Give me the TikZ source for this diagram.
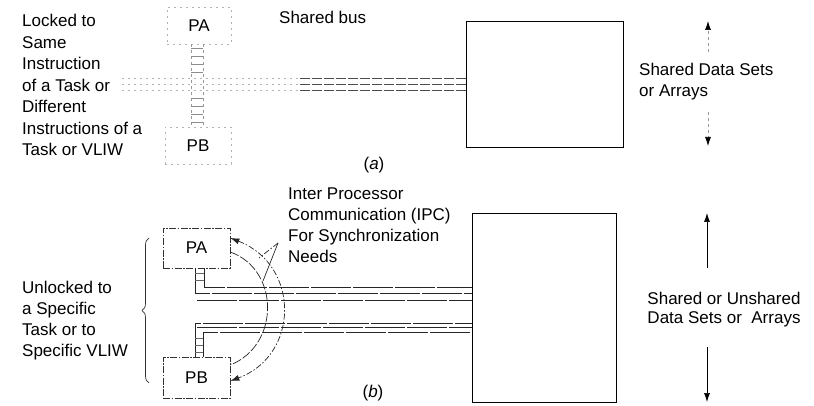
\documentclass[tikz,border=0pt]{standalone}
\usepackage{fontspec}
\setmainfont{Liberation Sans}
\usetikzlibrary{arrows.meta,decorations.pathreplacing}
\begin{document}
\begin{tikzpicture}[x=1pt,y=-1pt,
  txt/.style={font=\fontsize{17}{21}\selectfont, align=left, anchor=north west, inner sep=0pt},
  lbl/.style={font=\fontsize{17}{21}\selectfont, inner sep=0pt},
  faint/.style={draw=black!40, dash pattern=on 3pt off 3pt, line width=0.7pt},
  fainter/.style={draw=black!30, dash pattern=on 2pt off 4pt, line width=0.7pt},
  procbox/.style={draw=black!80, dash pattern=on 7pt off 1.5pt on 1.5pt off 1.5pt, line width=0.7pt, font=\fontsize{17}{21}\selectfont, inner sep=0pt},
  procboxa/.style={fainter, font=\fontsize{17}{21}\selectfont, inner sep=0pt},
  membox/.style={draw=black, line width=0.8pt, inner sep=0pt},
  busa/.style={draw=black!70, dash pattern=on 10pt off 2pt, line width=0.7pt},
  busb/.style={draw=black!85, dash pattern=on 40pt off 2pt, line width=0.7pt},
  rung/.style={draw=black!60, line width=0.6pt},
  ipcout/.style={draw=black!85, line width=0.7pt, dash pattern=on 6pt off 2pt on 1.5pt off 2pt},
  ipcin/.style={draw=black!85, line width=0.7pt, dash pattern=on 9pt off 2pt},
  tip/.style={-{Latex[length=9pt,width=6pt,color=black]}}
]
\useasboundingbox (0,0) rectangle (814,406);

% ---------------- (a) ----------------
\node[procboxa, minimum width=64, minimum height=37] (PAa) at (199,25.5) {PA};
\node[procboxa, minimum width=66, minimum height=37] (PBa) at (198,145.5) {PB};
\node[membox, minimum width=157, minimum height=126] (MEMa) at (544.5,84) {};

\draw[faint] (191,0 |- PAa.south) -- (191,0 |- PBa.north);
\draw[faint] (203,0 |- PAa.south) -- (203,0 |- PBa.north);
\foreach \yy in {48,56,64,72,98,106,114,122} \draw[rung, draw=black!45] (191,\yy) -- (203,\yy);

\foreach \yy in {78,84,90} {
  \draw[fainter] (122,\yy) -- (300,\yy);
  \draw[busa] (300,\yy) -- (MEMa.west |- 0,\yy);
}

\node[txt, font=\fontsize{17}{21.5}\selectfont] (lockedtxt) at (22,14) {Locked to\\Same\\Instruction\\of a Task or\\Different\\Instructions of a\\Task or VLIW};
\node[txt] (bustxt) at (279,11) {Shared bus};
\node[txt] (sharedA) at (639,63) {Shared Data Sets\\or Arrays};
\node[lbl] (capa) at (374,165) {(\textit{a})};

\coordinate (upa0) at (708,52);
\coordinate (upa1) at (708,21);
\coordinate (dna0) at (708,112);
\coordinate (dna1) at (708,146);
\draw[faint, tip] (upa0) -- (upa1);
\draw[faint, tip] (dna0) -- (dna1);

% ---------------- (b) ----------------
\node[procbox, minimum width=67, minimum height=40] (PAb) at (196.5,248) {PA};
\node[procbox, minimum width=67, minimum height=41] (PBb) at (196.5,377.5) {PB};
\node[membox, minimum width=144, minimum height=189] (MEMb) at (544,307.5) {};

% buses
\draw[busb] (204,0 |- PAb.south) -- (204,287) -- (MEMb.west |- 0,287);
\draw[busb] (195,0 |- PAb.south) -- (195,293) -- (MEMb.west |- 0,293);
\draw[busb] (197,300) -- (MEMb.west |- 0,300);
\draw[busb] (195,0 |- PBb.north) -- (195,323) -- (MEMb.west |- 0,323);
\draw[busb] (203,0 |- PBb.north) -- (203,332) -- (MEMb.west |- 0,332);
\draw[busb] (197,327) -- (MEMb.west |- 0,327);
\foreach \yy in {273,280} \draw[rung] (195,\yy) -- (204,\yy);
\foreach \yy in {338,345,352} \draw[rung] (195,\yy) -- (203,\yy);

% brace
\draw[draw=black!80, line width=0.7pt, decorate, decoration={brace, amplitude=7pt}] (149,383) -- (149,238);

% IPC arcs
\draw[ipcout, {Latex[length=9pt,width=6pt]}-{Latex[length=9pt,width=6pt]}]
  (PAb.east |- 0,238) .. controls (300,265) and (300,355) .. (PBb.east |- 0,381);
\draw[ipcin] (PAb.east |- 0,252) .. controls (280,270) and (280,345) .. (PBb.east |- 0,365);
\coordinate (ipctip) at (278,243);
\coordinate (ipcl1) at (259,258);
\coordinate (ipcl2) at (263,281);
\draw[ipcout] (ipctip) -- (ipcl1);
\draw[draw=black!85, line width=0.7pt] (ipctip) -- (ipcl2);

\node[txt] (unlockedtxt) at (22,281) {Unlocked to\\a Specific\\Task or to\\Specific VLIW};
\node[txt] (ipctxt) at (288,188) {Inter Processor\\Communication (IPC)\\For Synchronization\\Needs};
\node[txt, align=center, anchor=north, font=\fontsize{17}{19}\selectfont] (sharedB) at (724,292) {Shared or Unshared\\Data Sets or\ \ Arrays};
\node[lbl] (capb) at (373,393) {(\textit{b})};

\coordinate (upb0) at (707,268);
\coordinate (upb1) at (707,213);
\coordinate (dnb0) at (707,347);
\coordinate (dnb1) at (707,402);
\draw[line width=0.7pt, tip] (upb0) -- (upb1);
\draw[line width=0.7pt, tip] (dnb0) -- (dnb1);
\end{tikzpicture}
\end{document}
